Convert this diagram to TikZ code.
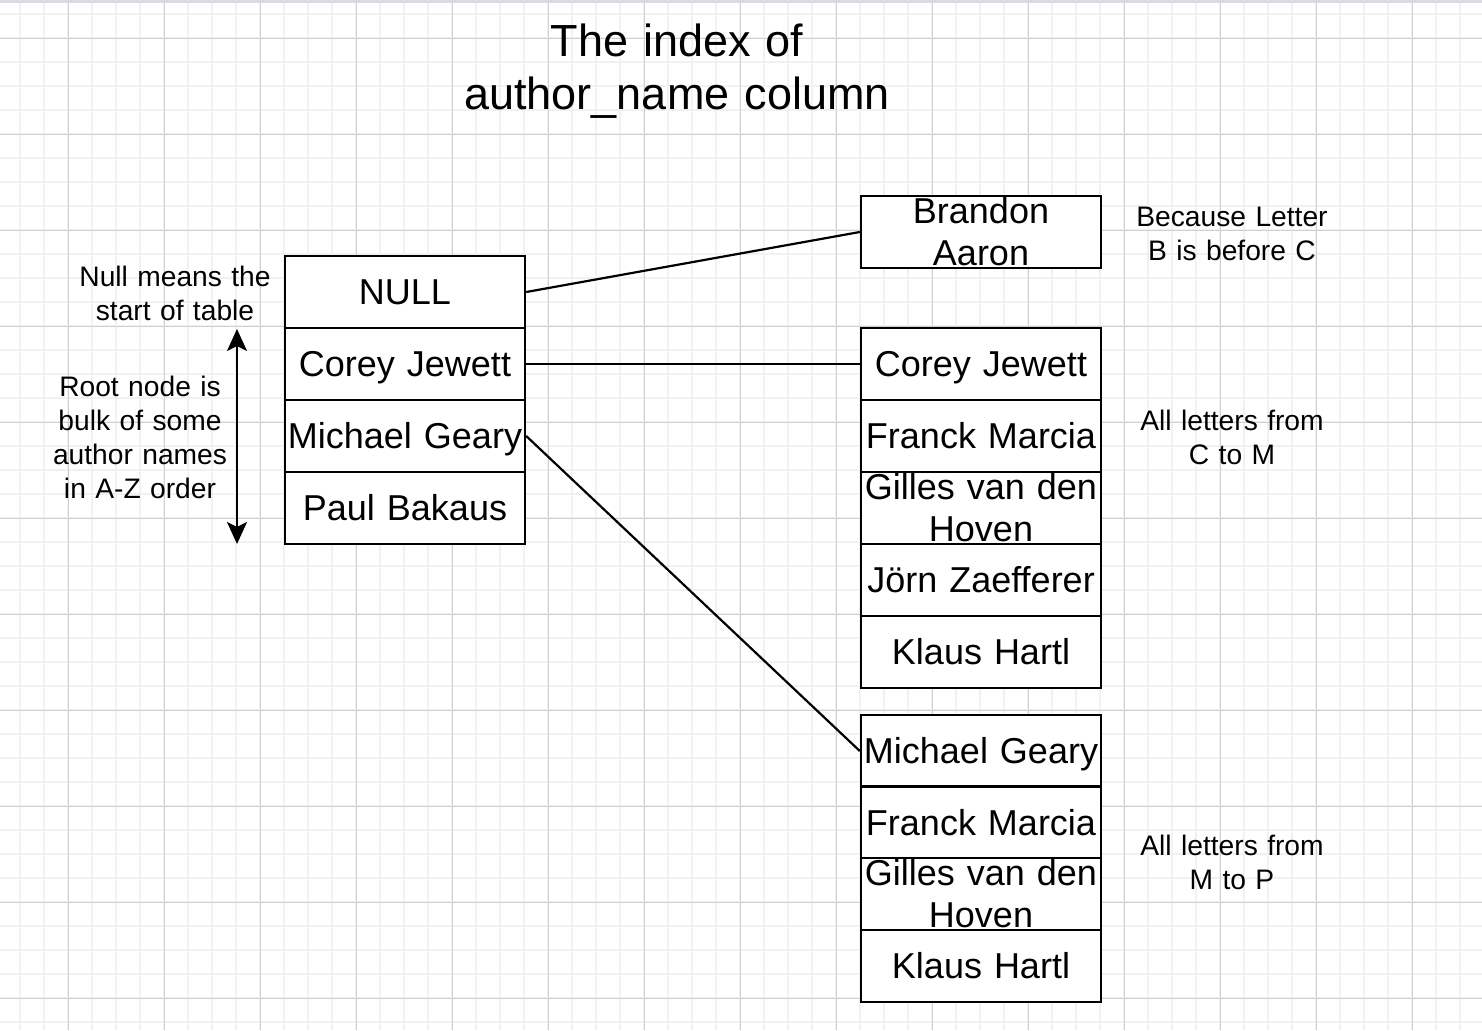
\documentclass[tikz,border=0pt]{standalone}
\usepackage{fontspec}
\setmainfont{Liberation Sans}
\usetikzlibrary{arrows.meta}

\definecolor{gridminor}{RGB}{241,241,241}
\definecolor{gridmajor}{RGB}{208,208,208}
\definecolor{canvasedge}{RGB}{218,218,226}

\begin{document}
\begin{tikzpicture}[x=0.5pt, y=-0.5pt,
  cell/.style={draw, fill=white, line width=1.2pt, minimum width=120pt,
    minimum height=36pt, inner sep=0pt, text width=118pt, align=center,
    font=\fontsize{18pt}{21pt}\selectfont, text height=12.9pt, text depth=0pt},
  notetext/.style={align=center, text width=110pt, inner sep=0pt,
    font=\fontsize{14.1pt}{17pt}\selectfont, text height=10.1pt},
  titletext/.style={align=center, text width=260pt, inner sep=0pt,
    font=\fontsize{22.5pt}{26.5pt}\selectfont, text height=16.1pt,
    text depth=26.5pt},
  link/.style={line width=1.1pt}]
  \useasboundingbox (0,0) rectangle (1482,1030);
  \fill[white] (0,0) rectangle (1482,1030);

  % grid
  \foreach \gx in {20,44,...,1482}
    \draw[gridminor, line width=0.9pt] (\gx,0) -- (\gx,1030);
  \foreach \gy in {14,38,...,1030}
    \draw[gridminor, line width=0.9pt] (0,\gy) -- (1482,\gy);
  \foreach \gx in {68,164,...,1482}
    \draw[gridmajor, line width=0.5pt] (\gx,0) -- (\gx,1030);
  \foreach \gy in {38,134,...,1030}
    \draw[gridmajor, line width=0.5pt] (0,\gy) -- (1482,\gy);
  \fill[canvasedge] (0,0) rectangle (1482,3);

  % title
  \node[titletext] (title) at (677,66.5) {The index of\\author\_name column};

  % root node
  \node[cell] (rnull)    at (405,292) {NULL};
  \node[cell] (rcorey)   at (405,364) {Corey Jewett};
  \node[cell] (rmichael) at (405,436) {Michael Geary};
  \node[cell] (rpaul)    at (405,508) {Paul Bakaus};

  % leaf before C
  \node[cell, text depth=21pt] (lbrandon) at (981,232) {Brandon\\Aaron};

  % leaf C to M
  \node[cell] (lcorey)   at (981,364) {Corey Jewett};
  \node[cell] (lfranck)  at (981,436) {Franck Marcia};
  \node[cell, text depth=21pt] (lgilles) at (981,508) {Gilles van den\\Hoven};
  \node[cell] (ljorn)    at (981,580) {Jörn Zaefferer};
  \node[cell] (lklaus)   at (981,652) {Klaus Hartl};

  % leaf M to P
  \node[cell] (mmichael) at (981,751) {Michael Geary};
  \node[cell] (mfranck)  at (981,822.5) {Franck Marcia};
  \node[cell, text depth=21pt] (mgilles) at (981,894) {Gilles van den\\Hoven};
  \node[cell] (mklaus)   at (981,966) {Klaus Hartl};

  % links
  \draw[link] (rnull.east) -- (lbrandon.west);
  \draw[link] (rcorey.east) -- (lcorey.west);
  \draw[link] (rmichael.east) -- (mmichael.west);

  % notes
  \node[notetext, text depth=17pt] (nnull) at (175,293)
    {Null means the\\start of table};
  \node[notetext, text depth=51pt] (nroot) at (140,437.5)
    {Root node is\\bulk of some\\author names\\in A-Z order};
  \node[notetext, text depth=17pt] (nbefore) at (1232,233)
    {Because Letter\\B is before C};
  \node[notetext, text depth=17pt] (ncm) at (1232,437)
    {All letters from\\C to M};
  \node[notetext, text depth=17pt] (nmp) at (1232,862)
    {All letters from\\M to P};

  % range arrow
  \coordinate (rangetop) at (237,329);
  \coordinate (rangebot) at (237,544);
  \draw[link, {Stealth[length=11pt,width=10pt,inset=2.5pt]}-{Stealth[length=11pt,width=10pt,inset=2.5pt]}]
    (rangetop) -- (rangebot);
\end{tikzpicture}
\end{document}
